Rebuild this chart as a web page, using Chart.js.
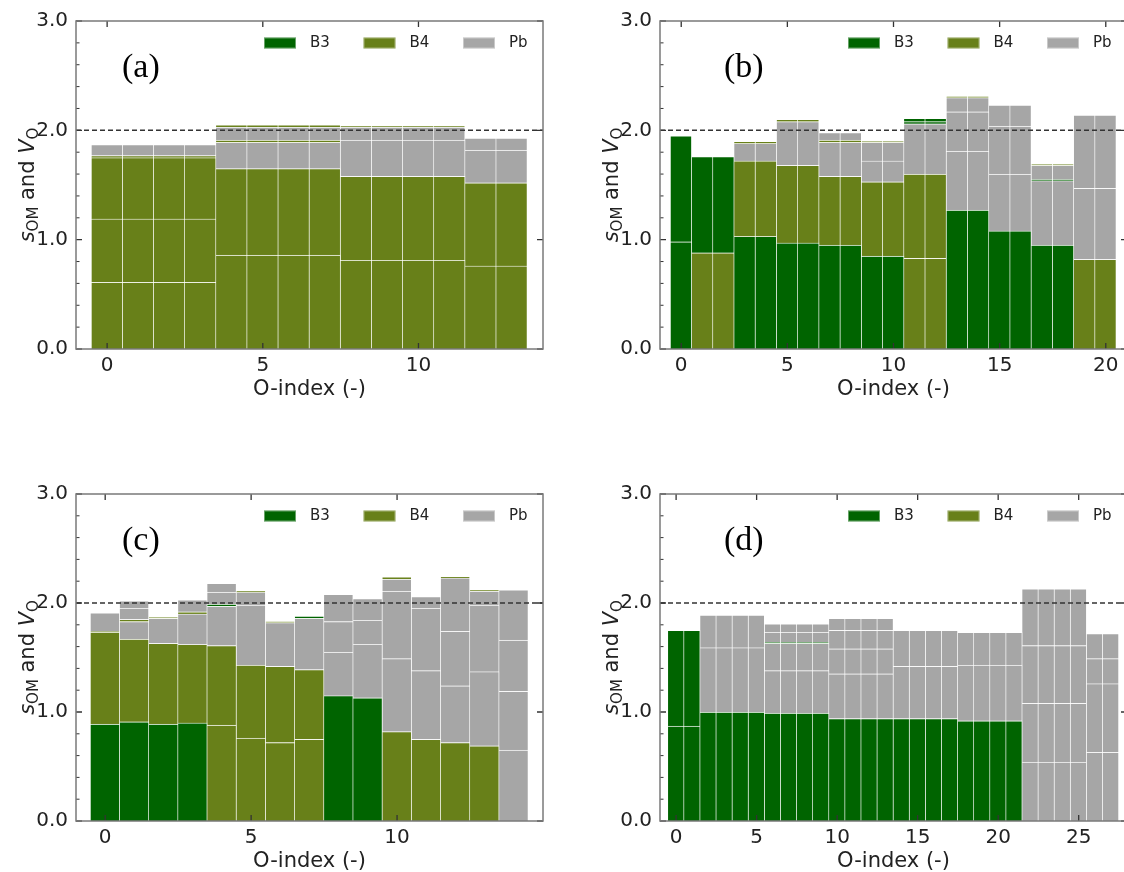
<!DOCTYPE html>
<html>
<head>
<meta charset="utf-8">
<script src="https://cdn.jsdelivr.net/npm/chart.js@4.4.1/dist/chart.umd.min.js"></script>
<style>
  html, body { margin: 0; padding: 0; background: #fff; width: 1124px; height: 872px; overflow: hidden; position: relative; }
  canvas { position: absolute; }
</style>
</head>
<body>
<canvas id="panelA"></canvas>
<canvas id="panelB"></canvas>
<canvas id="panelC"></canvas>
<canvas id="panelD"></canvas>
<script>
// axis ticks
const yTicks = [0, 1, 2, 3];
const xTicksA = [0, 5, 10];
const xTicksB = [0, 5, 10, 15, 20];
const xTicksC = [0, 5, 10];
const xTicksD = [0, 5, 10, 15, 20, 25];
const refLevel = 2.0;
const legendNames = ["B3", "B4", "Pb"];

// (a) segment heights per O-index, bottom to top, and the site of each segment
const aHeights = [
  [0.61, 0.58, 0.56, 0.02, 0.10],
  [0.61, 0.58, 0.56, 0.02, 0.10],
  [0.61, 0.58, 0.56, 0.02, 0.10],
  [0.61, 0.58, 0.56, 0.02, 0.10],
  [0.86, 0.79, 0.24, 0.02, 0.12, 0.02],
  [0.86, 0.79, 0.24, 0.02, 0.12, 0.02],
  [0.86, 0.79, 0.24, 0.02, 0.12, 0.02],
  [0.86, 0.79, 0.24, 0.02, 0.12, 0.02],
  [0.81, 0.77, 0.33, 0.12, 0.01],
  [0.81, 0.77, 0.33, 0.12, 0.01],
  [0.81, 0.77, 0.33, 0.12, 0.01],
  [0.81, 0.77, 0.33, 0.12, 0.01],
  [0.76, 0.76, 0.30, 0.11],
  [0.76, 0.76, 0.30, 0.11]
];
const aKinds = [
  ["B4", "B4", "B4", "B4", "Pb"],
  ["B4", "B4", "B4", "B4", "Pb"],
  ["B4", "B4", "B4", "B4", "Pb"],
  ["B4", "B4", "B4", "B4", "Pb"],
  ["B4", "B4", "Pb", "B4", "Pb", "B4"],
  ["B4", "B4", "Pb", "B4", "Pb", "B4"],
  ["B4", "B4", "Pb", "B4", "Pb", "B4"],
  ["B4", "B4", "Pb", "B4", "Pb", "B4"],
  ["B4", "B4", "Pb", "Pb", "B4"],
  ["B4", "B4", "Pb", "Pb", "B4"],
  ["B4", "B4", "Pb", "Pb", "B4"],
  ["B4", "B4", "Pb", "Pb", "B4"],
  ["B4", "B4", "Pb", "Pb"],
  ["B4", "B4", "Pb", "Pb"]
];

// (b)
const bHeights = [
  [0.98, 0.97],
  [0.88, 0.88],
  [0.88, 0.88],
  [1.03, 0.69, 0.16, 0.02],
  [1.03, 0.69, 0.16, 0.02],
  [0.97, 0.71, 0.40, 0.02],
  [0.97, 0.71, 0.40, 0.02],
  [0.95, 0.63, 0.31, 0.02, 0.07],
  [0.95, 0.63, 0.31, 0.02, 0.07],
  [0.85, 0.68, 0.19, 0.17, 0.01],
  [0.85, 0.68, 0.19, 0.17, 0.01],
  [0.83, 0.77, 0.46, 0.02, 0.03],
  [0.83, 0.77, 0.46, 0.02, 0.03],
  [1.27, 0.54, 0.36, 0.13, 0.01],
  [1.27, 0.54, 0.36, 0.13, 0.01],
  [1.08, 0.52, 0.44, 0.19],
  [1.08, 0.52, 0.44, 0.19],
  [0.95, 0.59, 0.01, 0.13, 0.01],
  [0.95, 0.59, 0.01, 0.13, 0.01],
  [0.82, 0.65, 0.67],
  [0.82, 0.65, 0.67]
];
const bKinds = [
  ["B3", "B3"],
  ["B4", "B3"],
  ["B4", "B3"],
  ["B3", "B4", "Pb", "B4"],
  ["B3", "B4", "Pb", "B4"],
  ["B3", "B4", "Pb", "B4"],
  ["B3", "B4", "Pb", "B4"],
  ["B3", "B4", "Pb", "B4", "Pb"],
  ["B3", "B4", "Pb", "B4", "Pb"],
  ["B3", "B4", "Pb", "Pb", "B4"],
  ["B3", "B4", "Pb", "Pb", "B4"],
  ["B4", "B4", "Pb", "B3", "B3"],
  ["B4", "B4", "Pb", "B3", "B3"],
  ["B3", "Pb", "Pb", "Pb", "B4"],
  ["B3", "Pb", "Pb", "Pb", "B4"],
  ["B3", "Pb", "Pb", "Pb"],
  ["B3", "Pb", "Pb", "Pb"],
  ["B3", "Pb", "B3", "Pb", "B4"],
  ["B3", "Pb", "B3", "Pb", "B4"],
  ["B4", "Pb", "Pb"],
  ["B4", "Pb", "Pb"]
];

// (c)
const cHeights = [
  [0.89, 0.84, 0.01, 0.17],
  [0.91, 0.76, 0.16, 0.02, 0.10, 0.07],
  [0.89, 0.74, 0.23, 0.01],
  [0.90, 0.72, 0.28, 0.02, 0.11],
  [0.88, 0.73, 0.36, 0.02, 0.11, 0.08],
  [0.76, 0.67, 0.55, 0.12, 0.01],
  [0.72, 0.70, 0.40, 0.01],
  [0.75, 0.64, 0.47, 0.02],
  [1.15, 0.40, 0.28, 0.25],
  [1.13, 0.49, 0.22, 0.20],
  [0.82, 0.67, 0.62, 0.11, 0.02],
  [0.75, 0.63, 0.57, 0.11],
  [0.72, 0.52, 0.50, 0.49, 0.01],
  [0.69, 0.68, 0.61, 0.13, 0.01],
  [0.65, 0.54, 0.47, 0.46]
];
const cKinds = [
  ["B3", "B4", "B4", "Pb"],
  ["B3", "B4", "Pb", "B4", "Pb", "Pb"],
  ["B3", "B4", "Pb", "B4"],
  ["B3", "B4", "Pb", "B4", "Pb"],
  ["B4", "B4", "Pb", "B3", "Pb", "Pb"],
  ["B4", "B4", "Pb", "Pb", "B4"],
  ["B4", "B4", "Pb", "B4"],
  ["B4", "B4", "Pb", "B3"],
  ["B3", "Pb", "Pb", "Pb"],
  ["B3", "Pb", "Pb", "Pb"],
  ["B4", "Pb", "Pb", "Pb", "B4"],
  ["B4", "Pb", "Pb", "Pb"],
  ["B4", "Pb", "Pb", "Pb", "B4"],
  ["B4", "Pb", "Pb", "Pb", "B4"],
  ["Pb", "Pb", "Pb", "Pb"]
];

// (d)
const dHeights = [
  [0.87, 0.88],
  [0.87, 0.88],
  [1.00, 0.59, 0.30],
  [1.00, 0.59, 0.30],
  [1.00, 0.59, 0.30],
  [1.00, 0.59, 0.30],
  [0.99, 0.39, 0.25, 0.01, 0.09, 0.08],
  [0.99, 0.39, 0.25, 0.01, 0.09, 0.08],
  [0.99, 0.39, 0.25, 0.01, 0.09, 0.08],
  [0.99, 0.39, 0.25, 0.01, 0.09, 0.08],
  [0.94, 0.41, 0.23, 0.17, 0.11],
  [0.94, 0.41, 0.23, 0.17, 0.11],
  [0.94, 0.41, 0.23, 0.17, 0.11],
  [0.94, 0.41, 0.23, 0.17, 0.11],
  [0.94, 0.48, 0.33],
  [0.94, 0.48, 0.33],
  [0.94, 0.48, 0.33],
  [0.94, 0.48, 0.33],
  [0.92, 0.51, 0.30],
  [0.92, 0.51, 0.30],
  [0.92, 0.51, 0.30],
  [0.92, 0.51, 0.30],
  [0.54, 0.54, 0.53, 0.52],
  [0.54, 0.54, 0.53, 0.52],
  [0.54, 0.54, 0.53, 0.52],
  [0.54, 0.54, 0.53, 0.52],
  [0.63, 0.63, 0.23, 0.23],
  [0.63, 0.63, 0.23, 0.23]
];
const dKinds = [
  ["B3", "B3"],
  ["B3", "B3"],
  ["B3", "Pb", "Pb"],
  ["B3", "Pb", "Pb"],
  ["B3", "Pb", "Pb"],
  ["B3", "Pb", "Pb"],
  ["B3", "Pb", "Pb", "B3", "Pb", "Pb"],
  ["B3", "Pb", "Pb", "B3", "Pb", "Pb"],
  ["B3", "Pb", "Pb", "B3", "Pb", "Pb"],
  ["B3", "Pb", "Pb", "B3", "Pb", "Pb"],
  ["B3", "Pb", "Pb", "Pb", "Pb"],
  ["B3", "Pb", "Pb", "Pb", "Pb"],
  ["B3", "Pb", "Pb", "Pb", "Pb"],
  ["B3", "Pb", "Pb", "Pb", "Pb"],
  ["B3", "Pb", "Pb"],
  ["B3", "Pb", "Pb"],
  ["B3", "Pb", "Pb"],
  ["B3", "Pb", "Pb"],
  ["B3", "Pb", "Pb"],
  ["B3", "Pb", "Pb"],
  ["B3", "Pb", "Pb"],
  ["B3", "Pb", "Pb"],
  ["Pb", "Pb", "Pb", "Pb"],
  ["Pb", "Pb", "Pb", "Pb"],
  ["Pb", "Pb", "Pb", "Pb"],
  ["Pb", "Pb", "Pb", "Pb"],
  ["Pb", "Pb", "Pb", "Pb"],
  ["Pb", "Pb", "Pb", "Pb"]
];

const siteColors = { B3: "#006400", B4: "#688019", Pb: "#a6a6a6" };
const edgeColor = "rgba(255,255,255,0.35)";
const FONT = "DejaVu Sans";

// spines, inward ticks, 2.0 reference line, legend, panel letter, y title
const panelDecor = {
  id: "panelDecor",
  afterDraw(chart, args, opts) {
    const { ctx, chartArea: a, scales: { x, y } } = chart;
    ctx.save();

    const yRef = y.getPixelForValue(refLevel);
    ctx.strokeStyle = "#333";
    ctx.lineWidth = 1.5;
    ctx.setLineDash([5, 3]);
    ctx.beginPath();
    ctx.moveTo(a.left, yRef);
    ctx.lineTo(a.right, yRef);
    ctx.stroke();
    ctx.setLineDash([]);

    ctx.strokeStyle = "#333";
    ctx.lineWidth = 1.3;
    ctx.beginPath();
    opts.xTicks.forEach(v => {
      const px = x.getPixelForValue(v);
      ctx.moveTo(px, a.bottom); ctx.lineTo(px, a.bottom - 6);
      ctx.moveTo(px, a.top); ctx.lineTo(px, a.top + 6);
    });
    yTicks.forEach(v => {
      const py = y.getPixelForValue(v);
      ctx.moveTo(a.left, py); ctx.lineTo(a.left + 6, py);
      ctx.moveTo(a.right, py); ctx.lineTo(a.right - 6, py);
    });
    ctx.stroke();
    ctx.lineWidth = 1;
    ctx.beginPath();
    for (let i = 1; i < 15; i++) {
      if (i % 5 === 0) continue;
      const py = y.getPixelForValue(i * 0.2);
      ctx.moveTo(a.left, py); ctx.lineTo(a.left + 3.5, py);
    }
    ctx.stroke();

    ctx.strokeStyle = "#7a7a7a";
    ctx.lineWidth = 1.5;
    ctx.strokeRect(a.left, a.top, a.right - a.left, a.bottom - a.top);

    // legend
    ctx.font = "15px '" + FONT + "'";
    ctx.textBaseline = "middle";
    ctx.textAlign = "left";
    legendNames.forEach((name, k) => {
      const px = a.right - 279 + k * 99.5;
      const py = a.top + 16.5;
      ctx.fillStyle = siteColors[name];
      ctx.fillRect(px, py, 32, 11);
      ctx.strokeStyle = "rgba(255,255,255,0.4)";
      ctx.lineWidth = 1;
      ctx.strokeRect(px + 0.5, py + 0.5, 31, 10);
      ctx.fillStyle = "#222";
      ctx.fillText(name, px + 46, py + 6);
    });

    // panel letter
    ctx.font = "34px 'Liberation Serif'";
    ctx.textBaseline = "alphabetic";
    ctx.fillStyle = "#000";
    ctx.fillText(opts.letter, a.left + opts.letterDx, a.top + 56);

    // y title: s_OM and V_O
    const parts = [
      { t: "s", f: "italic 21px '" + FONT + "'", dy: 0 },
      { t: "OM", f: "15px '" + FONT + "'", dy: 4 },
      { t: " and ", f: "21px '" + FONT + "'", dy: 0 },
      { t: "V", f: "italic 21px '" + FONT + "'", dy: 0 },
      { t: "O", f: "15px '" + FONT + "'", dy: 4 }
    ];
    let total = 0;
    parts.forEach(p => { ctx.font = p.f; p.w = ctx.measureText(p.t).width; total += p.w; });
    ctx.translate(a.left - 42, (a.top + a.bottom) / 2);
    ctx.rotate(-Math.PI / 2);
    ctx.fillStyle = "#222";
    let cx = -total / 2;
    parts.forEach(p => {
      ctx.font = p.f;
      ctx.fillText(p.t, cx, p.dy);
      cx += p.w;
    });
    ctx.setTransform(1, 0, 0, 1, 0, 0);

    // x title
    ctx.font = "21px '" + FONT + "'";
    ctx.textAlign = "center";
    ctx.textBaseline = "alphabetic";
    ctx.fillStyle = "#222";
    ctx.fillText("O-index (-)", (a.left + a.right) / 2, a.bottom + 46);
    ctx.restore();
  }
};

function drawPanel(id, box, xMax, xTicks, heights, kinds, letter, letterDx) {
  const ML = 80, MT = 22, MB = 62, MR = 12;
  const canvas = document.getElementById(id);
  const w = box.right - box.left + ML + MR;
  const h = box.bottom - box.top + MT + MB;
  canvas.width = w;
  canvas.height = h;
  canvas.style.width = w + "px";
  canvas.style.height = h + "px";
  canvas.style.left = (box.left - ML) + "px";
  canvas.style.top = (box.top - MT) + "px";

  const layers = Math.max(...heights.map(s => s.length));
  const datasets = [];
  for (let k = 0; k < layers; k++) {
    datasets.push({
      data: heights.map((s, i) => ({ x: i, y: s[k] === undefined ? null : s[k] })),
      backgroundColor: kinds.map(s => siteColors[s[k]] || "rgba(0,0,0,0)"),
      borderColor: edgeColor,
      borderWidth: { top: 1, right: 1, bottom: 0, left: 0 },
      borderSkipped: false,
      barPercentage: 1,
      categoryPercentage: 1
    });
  }

  new Chart(canvas, {
    type: "bar",
    data: { datasets },
    options: {
      responsive: false,
      animation: false,
      devicePixelRatio: 1,
      layout: { padding: { top: MT, right: MR, left: 0, bottom: 0 } },
      plugins: {
        legend: { display: false },
        tooltip: { enabled: false },
        panelDecor: { letter, letterDx, xTicks }
      },
      scales: {
        x: {
          type: "linear",
          stacked: true,
          offset: false,
          min: -1,
          max: xMax,
          afterBuildTicks: s => { s.ticks = xTicks.map(v => ({ value: v })); },
          afterFit: s => { s.height = MB; },
          grid: { display: false, drawTicks: false },
          border: { display: false },
          ticks: { padding: 5, maxRotation: 0, autoSkip: false, color: "#222", font: { family: FONT, size: 20 } }
        },
        y: {
          stacked: true,
          min: 0,
          max: 3,
          afterBuildTicks: s => { s.ticks = yTicks.map(v => ({ value: v })); },
          afterFit: s => { s.width = ML; },
          grid: { display: false, drawTicks: false },
          border: { display: false },
          ticks: { padding: 8, color: "#222", font: { family: FONT, size: 20 }, callback: v => v.toFixed(1) }
        }
      }
    },
    plugins: [panelDecor]
  });
}

drawPanel("panelA", { left: 76, right: 543, top: 21, bottom: 349 }, 14, xTicksA, aHeights, aKinds, "(a)", 46);
drawPanel("panelB", { left: 660, right: 1127, top: 21, bottom: 349 }, 21, xTicksB, bHeights, bKinds, "(b)", 64);
drawPanel("panelC", { left: 76, right: 543, top: 494, bottom: 821 }, 15, xTicksC, cHeights, cKinds, "(c)", 46);
drawPanel("panelD", { left: 660, right: 1127, top: 494, bottom: 821 }, 28, xTicksD, dHeights, dKinds, "(d)", 64);
</script>
</body>
</html>
